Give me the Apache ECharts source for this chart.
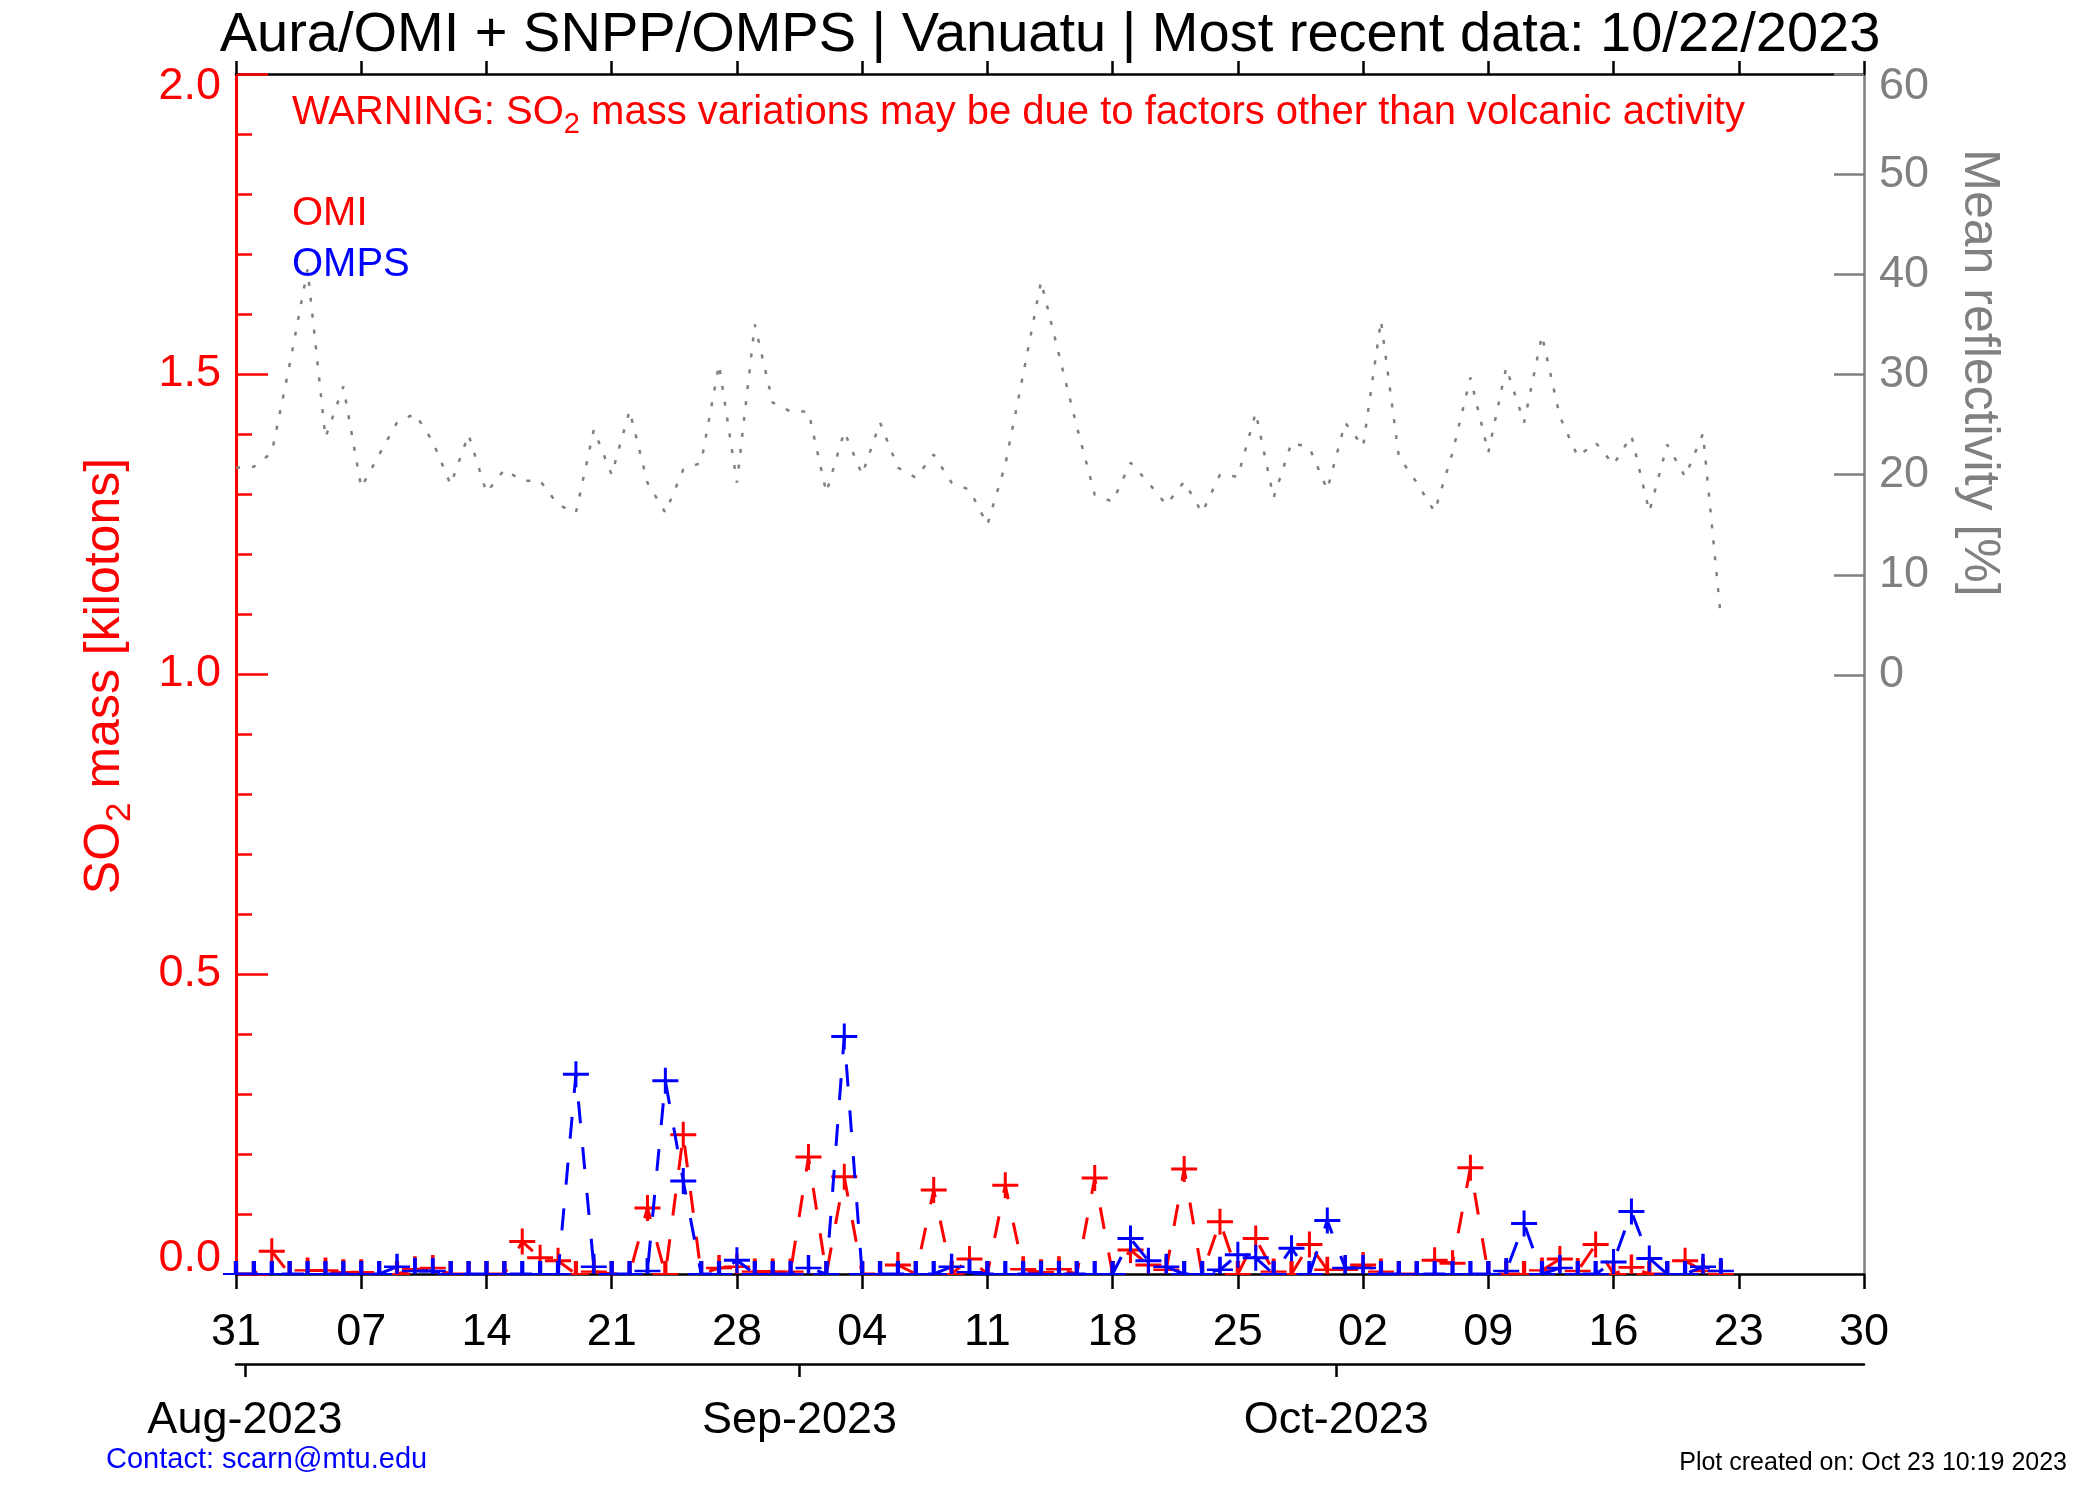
<!DOCTYPE html>
<html><head><meta charset="utf-8">
<script src="https://cdn.jsdelivr.net/npm/echarts@6/dist/echarts.min.js"></script>
<style>html,body{margin:0;padding:0;background:#fff}#c{width:2100px;height:1500px}</style>
</head><body><div id="c"></div>
<script>
// x = day offset from 2023-07-31
const dayTickLabels = ['31','07','14','21','28','04','11','18','25','02','09','16','23','30'];
const monthLabels = ['Aug-2023','Sep-2023','Oct-2023'];
const monthTickDays = [0.5, 31.5, 61.5];

const omi = [
  0,0,0.038,0,0.006,0.006,0.003,0.003,0,0,
  0.008,0.01,0,0,0,0,0.054,0.027,0.022,0,
  0.004,0,0,0.11,0,0.232,0,0.01,0.012,0.004,
  0.004,0.004,0.195,0,0.162,0,0,0.015,0,0.14,
  0,0.025,0,0.148,0.008,0.003,0.008,0,0.16,0,
  0.04,0.015,0.007,0.175,0,0.087,0,0.059,0.004,0,
  0.049,0.007,0.007,0.015,0.004,0,0,0.023,0.018,0.177,
  0,0,0,0.006,0.025,0.005,0.049,0,0.011,0,
  0,0.022,0.005,0
];
const omps = [
  0,0,0,0,0,0,0,0,0,0.012,
  0.005,0.005,0,0,0,0,0,0,0,0.333,
  0.012,0,0,0.005,0.322,0.155,0,0,0.023,0,
  0,0,0.01,0,0.396,0,0,0,0,0,
  0.012,0.003,0,0,0,0,0,0,0,0,
  0.059,0.022,0.012,0,0,0.007,0.032,0.027,0,0.043,
  0,0.089,0.01,0.01,0,0,0,0,0,0,
  0,0.005,0.084,0,0.01,0,0,0.02,0.104,0.026,
  0,0,0.012,0.005
];
const reflectivity = [
  20.7,20.8,22.2,31.0,40.5,23.7,28.8,18.7,22.0,25.2,
  26.1,23.3,19.0,24.0,18.2,20.5,19.4,19.4,17.0,16.2,
  24.5,20.0,26.4,19.2,16.2,20.5,21.2,31.0,19.2,35.0,
  27.2,26.3,26.3,18.2,24.3,20.0,25.2,20.7,19.7,22.0,
  19.2,18.5,15.0,21.0,30.0,39.3,32.0,24.8,18.0,17.3,
  21.2,19.2,17.0,19.3,16.2,20.0,19.8,26.2,17.7,23.2,
  22.7,18.5,25.2,22.8,35.4,21.8,19.2,16.3,22.2,29.7,
  22.2,30.7,25.2,33.9,25.8,21.8,23.2,21.0,23.9,16.3,
  23.0,19.8,24.1,5.7
];

const titleText = 'Aura/OMI + SNPP/OMPS | Vanuatu | Most recent data: 10/22/2023';
const warnText = 'WARNING: SO{sub|2} mass variations may be due to factors other than volcanic activity';
const leftName = 'SO{sub|2} mass [kilotons]';
const rightName = 'Mean reflectivity [%]';
const contactText = 'Contact: scarn@mtu.edu';
const createdText = 'Plot created on: Oct 23 10:19 2023';

const FONT = '"Liberation Sans", Arial, Helvetica, sans-serif';
const RED = '#ff0000', BLUE = '#0000ff', GREY = '#808080', BLACK = '#000000';
const GL = 236, GR = 236, GT = 74, GH = 1200, RH = 601;
const SO2_MAX = 2, DAY_MAX = 91;
const pxPerUnit = GH / SO2_MAX;
const MS = 26, HALF = 13;

function plusItem(x, v) {
  const h = v * pxPerUnit;
  const c = Math.max(0, Math.min(HALF, HALF - h));
  const hh = MS - c;
  return {
    value: [x, v],
    symbol: 'path://M0,' + HALF + 'L' + MS + ',' + HALF + 'M' + HALF + ',0L' + HALF + ',' + hh,
    symbolSize: [MS, hh],
    symbolOffset: [0, -c / 2]
  };
}

const chart = echarts.init(document.getElementById('c'), null, {renderer: 'canvas'});
const option = {
  backgroundColor: '#ffffff',
  animation: false,
  grid: [
    {left: GL, right: GR, top: GT, height: GH, containLabel: false},
    {left: GL, right: GR, top: GT, height: RH, containLabel: false}
  ],
  xAxis: [
    {gridIndex: 0, type: 'value', position: 'bottom', min: 0, max: DAY_MAX, interval: 7,
     axisLine: {show: true, onZero: false, lineStyle: {color: BLACK, width: 2.5}},
     axisTick: {show: true, inside: false, length: 15, lineStyle: {color: BLACK, width: 2.5}},
     axisLabel: {show: true, margin: 36, fontSize: 45, fontFamily: FONT, color: BLACK,
       showMinLabel: true, showMaxLabel: true,
       formatter: v => dayTickLabels[Math.round(v / 7)]},
     splitLine: {show: false}},
    {gridIndex: 0, type: 'value', position: 'top', min: 0, max: DAY_MAX, interval: 7,
     axisLine: {show: true, onZero: false, lineStyle: {color: BLACK, width: 2.5}},
     axisTick: {show: true, inside: false, length: 13, lineStyle: {color: BLACK, width: 2.5}},
     axisLabel: {show: false}, splitLine: {show: false}},
    {gridIndex: 0, type: 'value', position: 'bottom', offset: 90, min: 0, max: DAY_MAX,
     axisLine: {show: true, onZero: false, lineStyle: {color: BLACK, width: 2.5}},
     axisTick: {show: true, inside: false, length: 13, customValues: monthTickDays, lineStyle: {color: BLACK, width: 2.5}},
     axisLabel: {show: true, margin: 34, fontSize: 45, fontFamily: FONT, color: BLACK,
       customValues: monthTickDays,
       formatter: v => monthLabels[monthTickDays.indexOf(v)]},
     splitLine: {show: false}},
    {gridIndex: 1, type: 'value', show: false, position: 'bottom', min: 0, max: DAY_MAX,
     axisLine: {onZero: false}}
  ],
  yAxis: [
    {gridIndex: 0, type: 'value', position: 'left', min: 0, max: SO2_MAX, interval: 0.5,
     axisLine: {show: true, onZero: false, lineStyle: {color: RED, width: 3}},
     axisTick: {show: true, inside: true, length: 32, lineStyle: {color: RED, width: 2.5}},
     minorTick: {show: true, splitNumber: 5, length: 16, lineStyle: {color: RED, width: 2.5}},
     axisLabel: {show: true, margin: 15, fontSize: 45, fontFamily: FONT, color: RED,
       showMinLabel: true, showMaxLabel: true,
       formatter: v => v === SO2_MAX ? '{mx|' + v.toFixed(1) + '}' : (v === 0 ? '{mn|' + v.toFixed(1) + '}' : v.toFixed(1)),
       rich: {
         mx: {fontSize: 45, fontFamily: FONT, color: RED, padding: [26, 0, 0, 0]},
         mn: {fontSize: 45, fontFamily: FONT, color: RED, padding: [0, 0, 30, 0]}
       }},
     splitLine: {show: false}, minorSplitLine: {show: false}},
    {gridIndex: 0, type: 'value', position: 'right', min: 0, max: SO2_MAX,
     axisLine: {show: true, onZero: false, lineStyle: {color: GREY, width: 2.5}},
     axisTick: {show: false}, axisLabel: {show: false}, splitLine: {show: false}},
    {gridIndex: 1, type: 'value', position: 'right', min: 0, max: 60, interval: 10,
     axisLine: {show: false, onZero: false},
     axisTick: {show: true, inside: true, length: 30, lineStyle: {color: GREY, width: 2.5}},
     axisLabel: {show: true, margin: 15, fontSize: 45, fontFamily: FONT, color: GREY,
       showMinLabel: true, showMaxLabel: true,
       formatter: v => v === 60 ? '{mx|' + v + '}' : String(v),
       rich: {mx: {fontSize: 45, fontFamily: FONT, color: GREY, padding: [25, 0, 0, 0]}}},
     splitLine: {show: false}}
  ],
  series: [
    {type: 'line', name: 'Reflectivity', xAxisIndex: 3, yAxisIndex: 2,
     data: reflectivity.map((v, i) => [i, v]),
     symbol: 'none', showSymbol: false, silent: true,
     lineStyle: {color: GREY, width: 2.5, type: [4, 12], cap: 'butt'}, z: 2},
    {type: 'line', name: 'OMI', xAxisIndex: 0, yAxisIndex: 0,
     data: omi.map((v, i) => plusItem(i, v)),
     showAllSymbol: true, silent: true, symbolKeepAspect: false,
     lineStyle: {color: RED, width: 3, type: [22, 24], cap: 'butt'},
     itemStyle: {color: RED, borderColor: RED, borderWidth: 3}, z: 3},
    {type: 'line', name: 'OMPS', xAxisIndex: 0, yAxisIndex: 0,
     data: omps.map((v, i) => plusItem(i, v)),
     showAllSymbol: true, silent: true, symbolKeepAspect: false,
     lineStyle: {color: BLUE, width: 3, type: [22, 24], cap: 'butt'},
     itemStyle: {color: BLUE, borderColor: BLUE, borderWidth: 3}, z: 4}
  ],
  graphic: [
    {type: 'text', x: 1050, y: 36, silent: true,
     style: {text: titleText, fontSize: 56, fontFamily: FONT, fill: BLACK, align: 'center', verticalAlign: 'middle'}},
    {type: 'text', x: 292, y: 113, silent: true,
     style: {text: warnText, fontSize: 40, fontFamily: FONT, fill: RED, align: 'left', verticalAlign: 'middle',
       rich: {sub: {fontSize: 29, fontFamily: FONT, fill: RED, padding: [24, 0, 0, 0]}}}},
    {type: 'text', x: 292, y: 214, silent: true,
     style: {text: 'OMI', fontSize: 40, fontFamily: FONT, fill: RED, align: 'left', verticalAlign: 'middle'}},
    {type: 'text', x: 292, y: 265, silent: true,
     style: {text: 'OMPS', fontSize: 40, fontFamily: FONT, fill: BLUE, align: 'left', verticalAlign: 'middle'}},
    {type: 'text', x: 105, y: 676, rotation: Math.PI / 2, silent: true,
     style: {text: leftName, fontSize: 50, fontFamily: FONT, fill: RED, align: 'center', verticalAlign: 'middle',
       rich: {sub: {fontSize: 35, fontFamily: FONT, fill: RED, padding: [30, 0, 0, 0]}}}},
    {type: 'text', x: 1979, y: 373, rotation: -Math.PI / 2, silent: true,
     style: {text: rightName, fontSize: 50, fontFamily: FONT, fill: GREY, align: 'center', verticalAlign: 'middle'}},
    {type: 'text', x: 106, y: 1460, silent: true,
     style: {text: contactText, fontSize: 29, fontFamily: FONT, fill: BLUE, align: 'left', verticalAlign: 'middle'}},
    {type: 'text', x: 2067, y: 1463, silent: true,
     style: {text: createdText, fontSize: 25, fontFamily: FONT, fill: BLACK, align: 'right', verticalAlign: 'middle'}}
  ]
};
chart.setOption(option);
</script>
</body></html>
